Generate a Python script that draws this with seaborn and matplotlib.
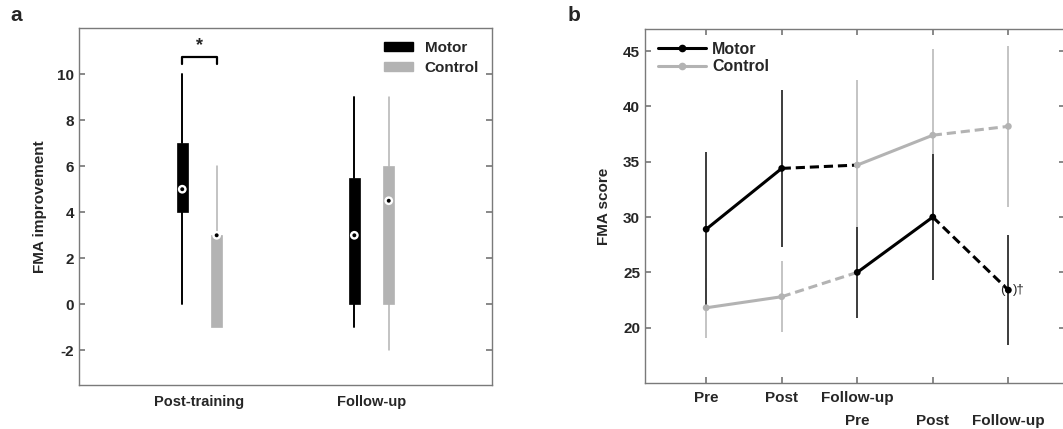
import matplotlib
matplotlib.use('Agg')
import matplotlib.pyplot as plt
from matplotlib.lines import Line2D
from matplotlib.patches import Patch
import pandas as pd
import seaborn as sns

# panel a: FMA improvement, box summaries (min, q1, median, q3, max)
periods = ['Post-training', 'Follow-up']
motor_stats = [(0, 4, 5, 7, 10), (-1, 0, 3, 5.5, 9)]
control_stats = [(-1, -1, 3, 3, 6), (-2, 0, 4.5, 6, 9)]

# panel b: crossover groups, mean and SD at the five time points
timepoints = [1, 2, 3, 4, 5]
phase1_labels = ['Pre', 'Post', 'Follow-up']
phase2_labels = ['Pre', 'Post', 'Follow-up']
motor_first_mean = [28.9, 34.4, 34.7, 37.4, 38.2]
motor_first_sd = [6.95, 7.1, 7.7, 7.75, 7.25]
motor_first_cond = ['Motor', 'Motor', 'Control', 'Control', 'Control']
control_first_mean = [21.8, 22.8, 25.0, 30.0, 23.4]
control_first_sd = [2.7, 3.2, 4.1, 5.7, 5.0]
control_first_cond = ['Control', 'Control', 'Motor', 'Motor', 'Motor']
segment_style = ['solid', 'dashed', 'solid', 'dashed']

sns.set_theme(style='ticks')
plt.rcParams['font.family'] = ['Liberation Sans', 'DejaVu Sans']
plt.rcParams['font.weight'] = 'bold'
plt.rcParams['axes.labelweight'] = 'bold'
plt.rcParams['axes.unicode_minus'] = False

line_colors = {'Motor': 'black', 'Control': '#b3b3b3'}
err_colors = {'Motor': '#3c3c3c', 'Control': '#bababa'}
spine_gray = '#7a7a7a'
fs = 11

fig = plt.figure(figsize=(10.63, 4.29), dpi=100)
axa = fig.add_axes([79 / 1063, 44 / 429, 413 / 1063, 357 / 429])
axb = fig.add_axes([645 / 1063, 46 / 429, 420 / 1063, 354 / 429])

for ax in (axa, axb):
    for sp in ax.spines.values():
        sp.set_color(spine_gray)
        sp.set_linewidth(1.0)
    ax.tick_params(direction='in', color=spine_gray, length=4, labelsize=fs,
                   left=True, right=True, top=True, bottom=True)

# ---- panel a: box plots
offset = 0.1
box_w = 0.064
for stats, shift, cond in [(motor_stats, -offset, 'Motor'), (control_stats, offset, 'Control')]:
    bx = []
    for s in stats:
        bx.append(dict(whislo=s[0], q1=s[1], med=s[2], q3=s[3], whishi=s[4], fliers=[]))
    pos = [i + 1 + shift for i in range(len(stats))]
    c = line_colors[cond]
    axa.bxp(bx, positions=pos, widths=box_w, patch_artist=True, showcaps=False,
            showfliers=False, manage_ticks=False,
            boxprops=dict(facecolor=c, edgecolor=c, linewidth=0.5),
            whiskerprops=dict(color=c, linewidth=1.4 if cond == 'Motor' else 1.1),
            medianprops=dict(linewidth=0))
    meds = [s[2] for s in stats]
    axa.scatter(pos, meds, s=40, color='white', edgecolor='none', zorder=4)
    axa.scatter(pos, meds, s=8, color='black', edgecolor='none', zorder=5)

axa.set_xlim(0.3, 2.7)
axa.set_ylim(-3.5, 12)
axa.set_yticks(range(-2, 11, 2))
axa.set_xticks([1, 2])
axa.set_xticklabels(periods)
axa.tick_params(axis='x', length=0, pad=7, labelsize=10.5)
axa.set_ylabel('FMA improvement', fontsize=fs, labelpad=7)

# significance bracket
axa.plot([1 - offset, 1 - offset, 1 + offset, 1 + offset], [10.42, 10.72, 10.72, 10.42],
         color='black', lw=1.6)
axa.text(1.0, 10.85, '*', ha='center', va='bottom', fontsize=13, fontweight='bold')

axa.legend(handles=[Patch(color='black', label='Motor'), Patch(color='#b3b3b3', label='Control')],
           loc='upper right', frameon=False, fontsize=fs, handlelength=1.9, handleheight=0.55,
           handletextpad=0.75, labelspacing=0.4, borderaxespad=0.45)

# ---- panel b: crossover lines
seg_rows = []
pt_rows = []
groups = [('A', motor_first_mean, motor_first_sd, motor_first_cond),
          ('B', control_first_mean, control_first_sd, control_first_cond)]
for gname, means, sds, conds in groups:
    for i in range(len(timepoints) - 1):
        for j in (i, i + 1):
            seg_rows.append(dict(seg=f'{gname}{i}', pos=timepoints[j], score=means[j],
                                 cond=conds[i], dash=segment_style[i]))
    for j in range(len(timepoints)):
        pt_rows.append(dict(group=gname, pos=timepoints[j], score=means[j], sd=sds[j], cond=conds[j]))
seg_df = pd.DataFrame(seg_rows)
pt_df = pd.DataFrame(pt_rows)

for cond in ['Control', 'Motor']:
    d = pt_df[pt_df['cond'] == cond]
    axb.errorbar(d['pos'], d['score'], yerr=d['sd'], fmt='none', ecolor=err_colors[cond],
                 elinewidth=1.4 if cond == 'Motor' else 1.2, capsize=0, zorder=1)

sns.lineplot(data=seg_df, x='pos', y='score', hue='cond', style='dash', units='seg',
             estimator=None, sort=False, palette=line_colors,
             dashes={'solid': '', 'dashed': (3, 1.6)}, linewidth=2.2, legend=False,
             ax=axb, zorder=2)
sns.scatterplot(data=pt_df, x='pos', y='score', hue='cond', palette=line_colors, s=24,
                edgecolor='none', legend=False, ax=axb, zorder=3)

axb.annotate('(', xy=(5, 23.4), xytext=(-3, 0), textcoords='offset points', ha='right',
             va='center', fontsize=9.5, fontweight='normal')
axb.annotate(')\u2020', xy=(5, 23.4), xytext=(3, 0), textcoords='offset points', ha='left',
             va='center', fontsize=9.5, fontweight='normal')

axb.set_xlim(0.19, 5.75)
axb.set_ylim(15, 47)
axb.set_yticks(range(20, 46, 5))
axb.set_xticks(timepoints)
axb.set_xticklabels(phase1_labels + [''] * (len(timepoints) - len(phase1_labels)))
axb.tick_params(axis='x', pad=6)
for x, lbl in zip(timepoints[2:], phase2_labels):
    axb.text(x, -0.107, lbl, transform=axb.get_xaxis_transform(), ha='center', va='center',
             fontsize=fs, fontweight='bold')
axb.set_xlabel('')
axb.set_ylabel('FMA score', fontsize=fs, labelpad=9)

axb.legend(handles=[Line2D([0], [0], color='black', lw=2.2, marker='o', ms=4.5, label='Motor'),
                    Line2D([0], [0], color='#b3b3b3', lw=2.2, marker='o', ms=4.5, label='Control')],
           loc='upper left', frameon=False, fontsize=fs + 0.5, handlelength=3.0, handletextpad=0.4,
           labelspacing=0.15, borderaxespad=0.4)

fig.text(10 / 1063, 1 - 6 / 429, 'a', fontsize=15, fontweight='bold', va='top')
fig.text(568 / 1063, 1 - 6 / 429, 'b', fontsize=15, fontweight='bold', va='top')

fig.savefig('out.png', dpi=100)
